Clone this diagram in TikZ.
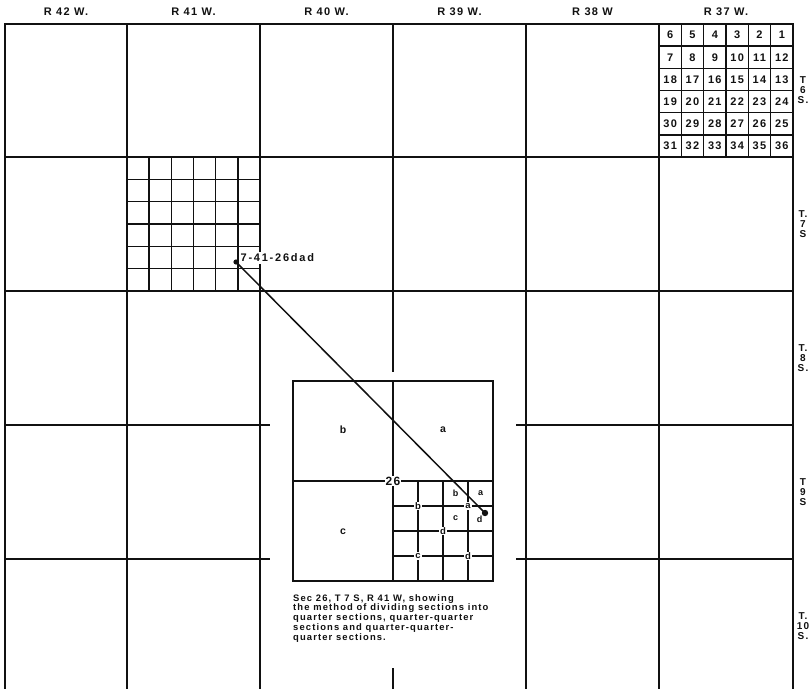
\documentclass[tikz,border=0pt]{standalone}
\usepackage{fontspec}
\setsansfont{Liberation Sans}
\newfontfamily\mapfont[LetterSpace=12]{Liberation Sans}
\newfontfamily\widefont[LetterSpace=16]{Liberation Sans}
\usetikzlibrary{positioning}
\definecolor{MapInk}{HTML}{111111}

\begin{document}
\begin{tikzpicture}[
  x=1pt,y=-1pt,font=\mapfont,
  twp/.style={draw=MapInk,line width=1.9pt,line cap=rect},
  secline/.style={draw=MapInk,line width=1.6pt},
  link/.style={draw=MapInk,line width=1.5pt},
  rng/.style={font=\mapfont\bfseries\fontsize{11}{12}\selectfont,text=MapInk},
  tlab/.style={font=\mapfont\bfseries\fontsize{10}{10}\selectfont,
    align=center,text=MapInk,inner sep=0pt},
  secno/.style={font=\mapfont\bfseries\fontsize{11}{11}\selectfont,
    text=MapInk,inner sep=0pt},
  quart/.style={font=\mapfont\bfseries\fontsize{10.5}{11}\selectfont,text=MapInk},
  qq/.style={font=\mapfont\bfseries\fontsize{9.5}{10}\selectfont,text=MapInk,
    fill=white,inner sep=1pt},
  qqq/.style={font=\mapfont\bfseries\fontsize{9}{9}\selectfont,text=MapInk,
    inner sep=0pt},
  note/.style={font=\mapfont\bfseries\fontsize{9.4}{9.8}\selectfont,text=MapInk,
    align=left,inner sep=0pt}
]
\useasboundingbox (0,0) rectangle (810,688);

% township and range lines
\foreach \x in {5,127,260,393,526,659,793}
  \draw[twp] (\x,24) -- (\x,688);
\foreach \y in {24,157,291,425,559}
  \draw[twp] (5,\y) -- (793,\y);

\foreach \cx/\txt [count=\i] in {66/{R 42 W.},193.5/{R 41 W.},326.5/{R 40 W.},
    459.5/{R 39 W.},592.5/{R 38 W},726/{R 37 W.}}
  \node[rng] (rng\i) at (\cx,12) {\txt};

\node[tlab] (t6) at (803,90) {T\\6\\S.};
\node[tlab] (t7) at (803,224) {T.\\7\\S};
\node[tlab] (t8) at (803,358) {T.\\8\\S.};
\node[tlab] (t9) at (803,492) {T\\9\\S};
\node[tlab] (t10) at (803,626) {T.\\10\\S.};

% sections of T 6 S, R 37 W
\foreach \i in {1,...,5} {
  \draw[secline] ({659+\i*134/6},24) -- ++(0,133);
  \draw[secline] (659,{24+\i*133/6}) -- ++(134,0);
}
\foreach \row/\list in {0/{6,5,4,3,2,1},1/{7,8,9,10,11,12},
    2/{18,17,16,15,14,13},3/{19,20,21,22,23,24},
    4/{30,29,28,27,26,25},5/{31,32,33,34,35,36}}
  \foreach \n [count=\c from 0] in \list
    \node[secno] (s\n) at ({659+(\c+0.5)*134/6},{24+(\row+0.5)*133/6}) {\n};

% sections of T 7 S, R 41 W
\foreach \i in {1,...,5} {
  \draw[secline] ({127+\i*133/6},157) -- ++(0,134);
  \draw[secline] (127,{157+\i*134/6}) -- ++(133,0);
}
\node[fill=white,inner sep=1.5pt,anchor=west,text=MapInk,
  font=\widefont\bfseries\fontsize{11}{11}\selectfont] (tractlab) at (239,258)
  {7-41-26dad};
\coordinate (tract) at (236,262);

% enlarged section 26
\fill[white] (270,372) rectangle (516,668);
\node[draw=MapInk,line width=1.9pt,minimum width=200pt,minimum height=200pt,
  inner sep=0pt] (sec26) at (393,481) {};
\draw[secline,line width=1.9pt] (sec26.north) -- (sec26.south);
\draw[secline,line width=1.9pt] (sec26.west) -- (sec26.east);
\foreach \i in {1,2,3} {
  \draw[secline] ({393+\i*25},481) -- ({393+\i*25},581);
  \draw[secline] (393,{481+\i*25}) -- (493,{481+\i*25});
}
\node[quart] (qb) at (343,430) {b};
\node[quart] (qa) at (443,430) {a};
\node[quart] (qc) at (343,532) {c};

\coordinate (tractzoom) at (485,513);
\draw[link] (tract) -- (tractzoom);
\fill[MapInk] (tract) circle (2.6);
\fill[MapInk] (tractzoom) circle (3.2);

\node[qq,font=\mapfont\bfseries\fontsize{12}{12}\selectfont] (no26)
  at (393,481) {26};
\node[qq] (qqb) at (418,506) {b};
\node[qq] (qqa) at (468,506) {a};
\node[qq] (qqd) at (443,531) {d};
\node[qq] (qqc) at (418,556) {c};
\node[qq] (qqdd) at (468,556) {d};
\node[qqq] (qqqb) at (455.5,493.5) {b};
\node[qqq] (qqqa) at (480.5,493.5) {a};
\node[qqq] (qqqc) at (455.5,518.5) {c};
\node[qqq] (qqqd) at (479.5,519.5) {d};

\node[note,anchor=north west] (caption) at (293,594)
  {Sec 26, T 7 S, R 41 W, showing\\
   the method of dividing sections into\\
   quarter sections, quarter-quarter\\
   sections and quarter-quarter-\\
   quarter sections.};

\end{tikzpicture}
\end{document}
